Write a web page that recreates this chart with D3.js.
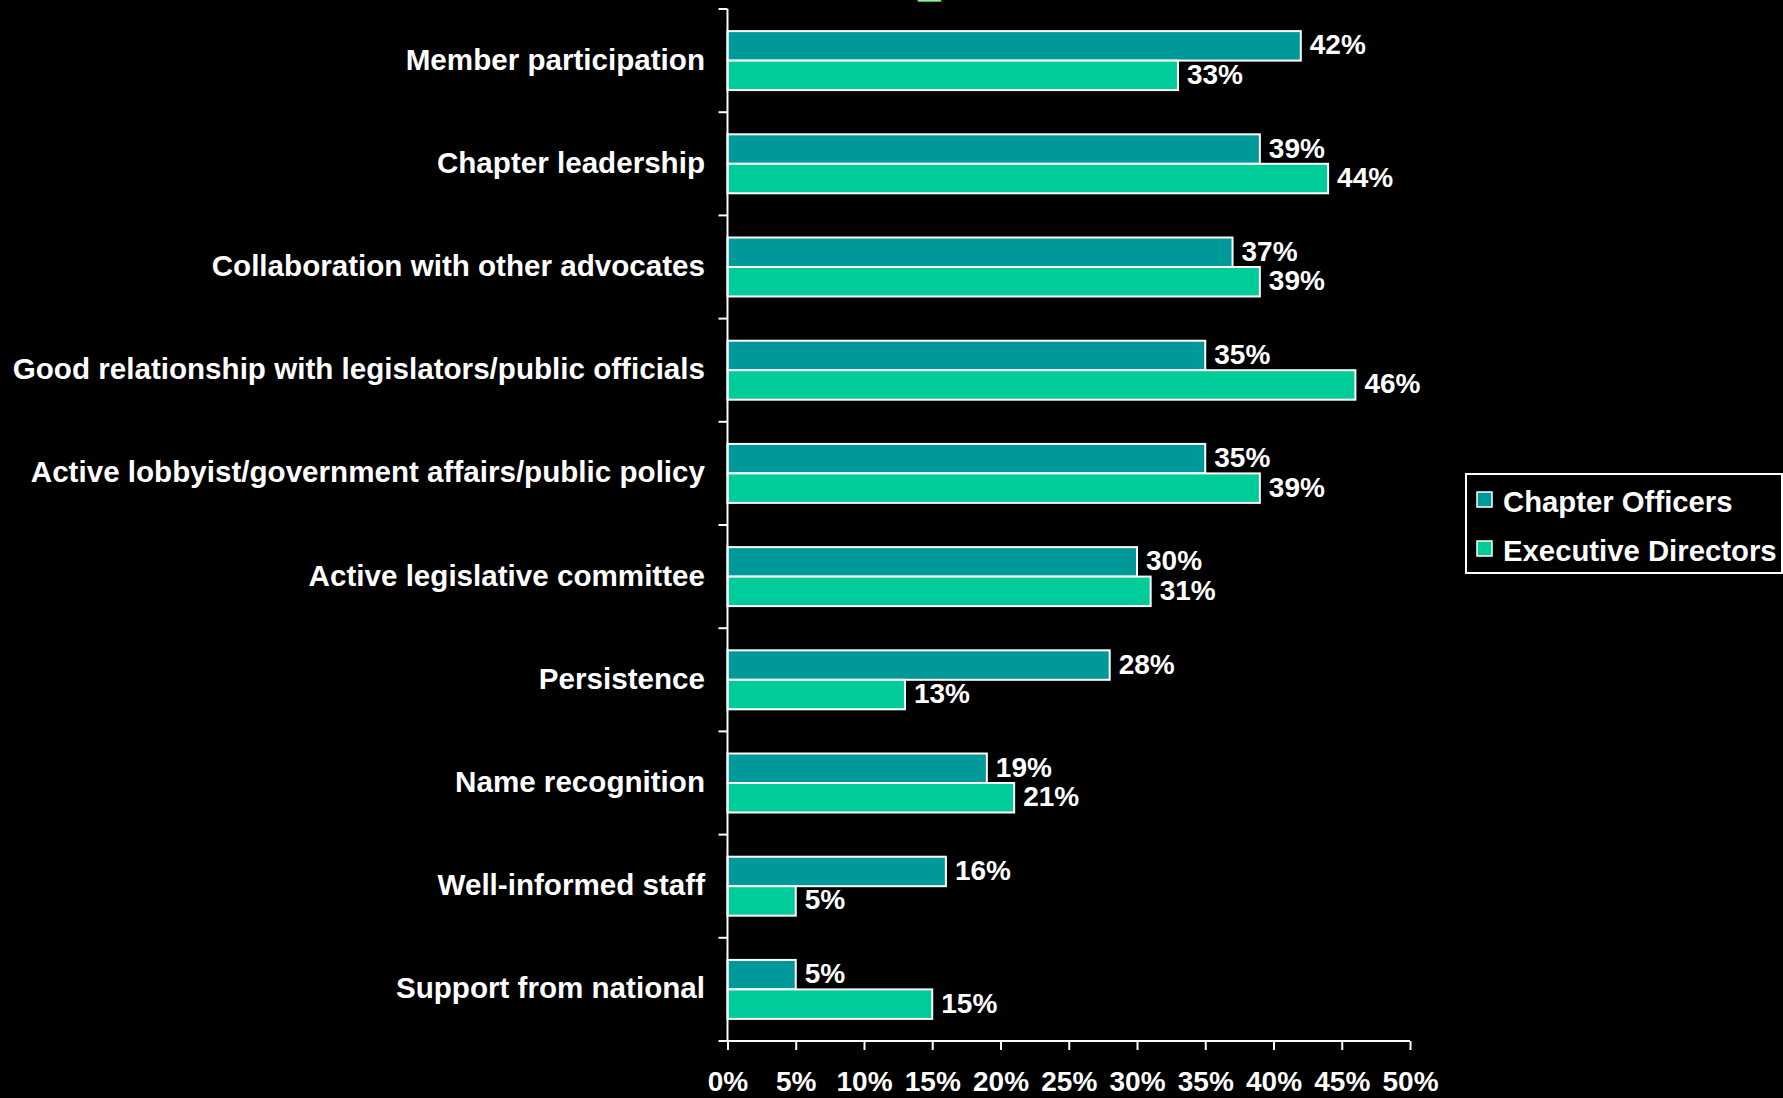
<!DOCTYPE html>
<html>
<head>
<meta charset="utf-8">
<script src="https://cdn.jsdelivr.net/npm/d3@7"></script>
<style>
  html, body { margin: 0; padding: 0; background: #000; }
  svg { display: block; }
  text { font-family: "Liberation Sans", Arial, sans-serif; font-weight: bold; fill: #fff; }
</style>
</head>
<body>
<svg id="chart" width="1783" height="1098"></svg>
<script>
const categories = [
  "Member participation",
  "Chapter leadership",
  "Collaboration with other advocates",
  "Good relationship with legislators/public officials",
  "Active lobbyist/government affairs/public policy",
  "Active legislative committee",
  "Persistence",
  "Name recognition",
  "Well-informed staff",
  "Support from national"
];
const seriesNames = ["Chapter Officers", "Executive Directors"];
const chapterOfficers = [42, 39, 37, 35, 35, 30, 28, 19, 16, 5];
const executiveDirectors = [33, 44, 39, 46, 39, 31, 13, 21, 5, 15];
const tickValues = [0, 5, 10, 15, 20, 25, 30, 35, 40, 45, 50];
const colors = ["#009999", "#00CC99"];

const svg = d3.select("#chart");

const x = d3.scaleLinear().domain([0, 50]).range([727.5, 1410]);
const y = d3.scaleBand().domain(categories).range([9, 1041]).padding(0);
const sub = d3.scaleBand().domain(seriesNames).range([0, y.bandwidth()]).paddingInner(0).paddingOuter(0.75);

const rows = categories.map((c, i) => ({
  cat: c,
  vals: [
    {s: seriesNames[0], v: chapterOfficers[i]},
    {s: seriesNames[1], v: executiveDirectors[i]}
  ]
}));

// stray legend swatch fragment at top
svg.append("rect").attr("x", 918).attr("y", -10).attr("width", 23).attr("height", 11.5)
  .attr("fill", "#99EE99").attr("stroke", "#55aa55").attr("stroke-width", 1);

// bars
const g = svg.append("g");
const rowG = g.selectAll("g.row").data(rows).join("g")
  .attr("class", "row")
  .attr("transform", d => `translate(0,${y(d.cat)})`);

rowG.selectAll("rect").data(d => d.vals).join("rect")
  .attr("x", x(0))
  .attr("y", d => sub(d.s))
  .attr("width", d => x(d.v) - x(0))
  .attr("height", sub.bandwidth())
  .attr("fill", (d, i) => colors[i])
  .attr("stroke", "#fff")
  .attr("stroke-width", 2);

rowG.selectAll("text.val").data(d => d.vals).join("text")
  .attr("class", "val")
  .attr("x", d => x(d.v) + 9)
  .attr("y", d => sub(d.s) + sub.bandwidth() / 2 + 8.5)
  .attr("font-size", 28)
  .text(d => d.v + "%");

// category labels
svg.append("g").selectAll("text").data(categories).join("text")
  .attr("x", 705)
  .attr("y", d => y(d) + y.bandwidth() / 2 + 9)
  .attr("text-anchor", "end")
  .attr("font-size", 29.6)
  .text(d => d);

// y axis (ticks at band boundaries)
const yAx = svg.append("g");
yAx.append("line").attr("x1", x(0)).attr("x2", x(0)).attr("y1", 9).attr("y2", 1041)
  .attr("stroke", "#fff").attr("stroke-width", 2);
const boundaries = categories.map(c => y(c));
yAx.selectAll("line.tk").data(boundaries).join("line").attr("class", "tk")
  .attr("x1", x(0) - 9).attr("x2", x(0))
  .attr("y1", d => d).attr("y2", d => d)
  .attr("stroke", "#fff").attr("stroke-width", 2);

// x axis
const xAxis = d3.axisBottom(x).tickValues(tickValues).tickFormat(d => d + "%").tickSize(9).tickPadding(21).tickSizeOuter(0);
const xg = svg.append("g").attr("transform", "translate(0,1041)").call(xAxis);
xg.select(".domain").attr("stroke", "#fff").attr("stroke-width", 2).attr("d", `M${x(0) - 9},0H${x(50)}`);
xg.selectAll(".tick line").attr("stroke", "#fff").attr("stroke-width", 2);
xg.selectAll(".tick text").attr("font-size", 28).attr("fill", "#fff")
  .attr("font-family", '"Liberation Sans", Arial, sans-serif').attr("font-weight", "bold");

// legend
const lg = svg.append("g").attr("transform", "translate(1466,474)");
lg.append("rect").attr("x", 0).attr("y", 0).attr("width", 316).attr("height", 99)
  .attr("fill", "#000").attr("stroke", "#fff").attr("stroke-width", 2);
const li = lg.selectAll("g.li").data(seriesNames).join("g").attr("class", "li")
  .attr("transform", (d, i) => `translate(0,${27 + i * 49})`);
li.append("rect").attr("x", 11).attr("y", -9).attr("width", 15).attr("height", 15)
  .attr("fill", (d, i) => colors[i]).attr("stroke", "#fff").attr("stroke-width", 1.5);
li.append("text").attr("x", 37).attr("y", 11).attr("font-size", 29.3).text(d => d);
</script>
</body>
</html>
